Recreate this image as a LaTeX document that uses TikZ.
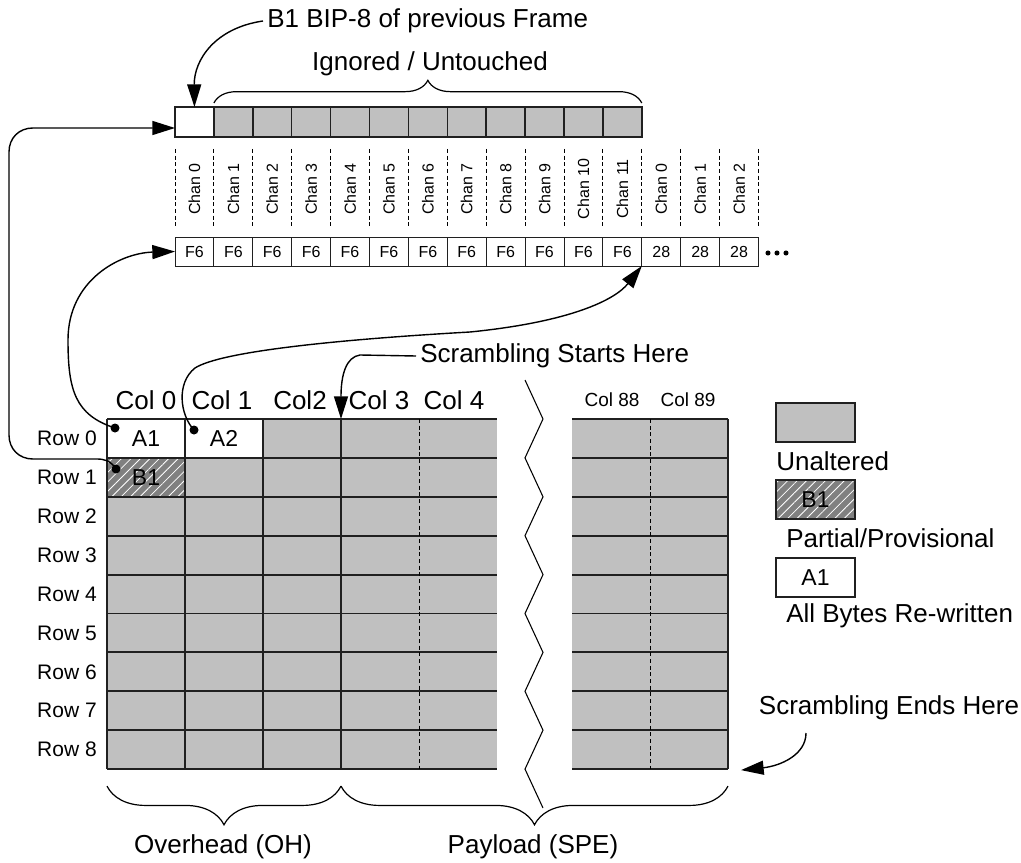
\documentclass[tikz,border=0pt]{standalone}
\usepackage{fontspec}
\setmainfont{Liberation Sans}
\usetikzlibrary{arrows.meta,decorations.pathreplacing,patterns.meta,calc}
\definecolor{cellgray}{HTML}{C0C0C0}
\definecolor{hatchgray}{HTML}{808080}
\definecolor{edgegray}{HTML}{202020}
\begin{document}
\begin{tikzpicture}[x=0.75pt,y=-0.75pt,
  lbl/.style={font=\fontsize{19.5}{22}\selectfont, inner sep=0},
  rowlbl/.style={font=\fontsize{15.75}{18}\selectfont, inner sep=0, anchor=east},
  farcol/.style={font=\fontsize{14.25}{16}\selectfont, inner sep=0},
  chanlbl/.style={font=\fontsize{12}{14}\selectfont, inner sep=0, rotate=90},
  celltext/.style={font=\fontsize{17.25}{20}\selectfont},
  cellbox/.style={rectangle, minimum width=58.5pt, minimum height=29.175pt,
    inner sep=0, outer sep=0, celltext},
  cell/.style={cellbox, fill=cellgray},
  hatched/.style={preaction={fill=hatchgray},
    pattern={Lines[angle=45,distance=5pt,line width=0.6pt]}, pattern color=white},
  topcell/.style={rectangle, draw=edgegray, line width=1.1pt, fill=cellgray,
    minimum width=29.175pt, minimum height=22.5pt, inner sep=0, outer sep=0},
  bytecell/.style={rectangle, draw=edgegray, line width=0.75pt, fill=white,
    minimum width=29.175pt, minimum height=21.75pt, inner sep=0, outer sep=0,
    font=\fontsize{12}{14}\selectfont},
  legbox/.style={rectangle, draw=edgegray, line width=1.2pt,
    minimum width=59.25pt, minimum height=29.25pt, inner sep=0, outer sep=0, celltext},
  gridline/.style={line width=1.4pt, draw=edgegray},
  sep/.style={line width=0.75pt, dash pattern=on 3pt off 2pt},
  thinline/.style={line width=0.8pt},
  link/.style={line width=1.05pt, -{Triangle[length=17pt,width=10.5pt]}},
  bracestyle/.style={line width=0.9pt, decorate},
  dot/.style={circle, fill=black, inner sep=0, minimum size=6.75pt}]
\useasboundingbox (0,0) rectangle (1021,863);

% ---- channel strip of the first row ----
\node[topcell, fill=white] (t0) at ({175+38.9*0.5},122) {};
\foreach \i in {1,...,11}
  \node[topcell] (t\i) at ({175+38.9*(\i+0.5)},122) {};

\draw[bracestyle, decoration={brace, amplitude=17pt}]
  ([yshift=3pt]t1.north west) -- ([yshift=3pt]t11.north east);
\node[lbl] (ign) at (430,64) {Ignored / Untouched};

\node[lbl, anchor=west] (bip) at (267,21) {B1 BIP-8 of previous Frame};

% ---- channel labels and byte values ----
\foreach \t [count=\i from 0] in {0,1,2,3,4,5,6,7,8,9,10,11,0,1,2}
  \node[chanlbl] (ch\i) at ({175+38.9*(\i+0.5)},189) {Chan \t};
\foreach \i in {0,...,15}
  \draw[sep] ({175+38.9*\i},149) -- ({175+38.9*\i},228);
\foreach \t [count=\i from 0] in {F6,F6,F6,F6,F6,F6,F6,F6,F6,F6,F6,F6,28,28,28}
  \node[bytecell] (b\i) at ({175+38.9*(\i+0.5)},251.5) {\t};
\foreach \k in {0,1,2}
  \fill ({768+9*\k},253) circle (1.9pt);

% ---- frame grid ----
\foreach \r in {0,...,8} {
  \foreach \c in {0,...,4}
    \node[cell] (L-\r-\c) at ({107+78*\c+39},{419+38.9*\r+19.45}) {};
  \foreach \c in {0,1}
    \node[cell] (R-\r-\c) at ({572+78*\c+39},{419+38.9*\r+19.45}) {};
}
\node[cellbox, fill=white] (A1) at (L-0-0) {A1};
\node[cellbox, fill=white] (A2) at (L-0-1) {A2};
\node[cellbox, hatched] (B1) at (L-1-0) {B1};

\foreach \r in {0,...,8} {
  \draw[gridline] (L-\r-0.north west) -- (L-\r-4.north east);
  \draw[gridline] (R-\r-0.north west) -- (R-\r-1.north east);
}
\draw[gridline] (L-8-0.south west) -- (L-8-4.south east);
\draw[gridline] (R-8-0.south west) -- (R-8-1.south east);
\foreach \c in {0,...,3}
  \draw[gridline] (L-0-\c.north west) -- (L-8-\c.south west);
\draw[sep] (L-0-4.north west) -- (L-8-4.south west);
\draw[sep] (R-0-1.north west) -- (R-8-1.south west);
\draw[gridline] (R-0-1.north east) -- (R-8-1.south east);

% break between column 4 and column 88
\draw[thinline] (525,380) -- (543,419) -- (525,457.9) -- (543,496.8) -- (525,535.7)
  -- (543,574.6) -- (525,613.5) -- (543,652.4) -- (525,691.3) -- (543,730.2)
  -- (525,769.1) -- (543,808);

% column and row headings
\node[lbl] (col0) at (146,400) {Col 0};
\node[lbl] (col1) at (222,400) {Col 1};
\node[lbl] (col2) at (300,400) {Col2};
\node[lbl] (col3) at (379,400) {Col 3};
\node[lbl] (col4) at (454,400) {Col 4};
\node[farcol] (col88) at (612,400) {Col 88};
\node[farcol] (col89) at (688,400) {Col 89};
\foreach \r in {0,...,8}
  \node[rowlbl] (row\r) at (97,{419+38.9*\r+19.45}) {Row \r};

% ---- markers and links ----
\node[dot] (a1dot) at (115,428) {};
\node[dot] (a2dot) at (194,430) {};
\node[dot] (b1dot) at (116,469) {};

\draw[link] (b1dot.center) .. controls (110,460) and (104,459) .. (96,459)
  -- (33,459) .. controls (19,459) and (9,449) .. (9,435)
  -- (9,152) .. controls (9,138) and (19,128) .. (33,128)
  -- ([yshift=-4.5pt]t0.west);
\draw[link] (a1dot.center) .. controls (75,415) and (68,390) .. (68,340)
  .. controls (68,280) and (120,253) .. (b0.west);
\draw[link] (a2dot.center) .. controls (180,415) and (176,383) .. (195,368)
  .. controls (220,352) and (330,340) .. (470,332)
  .. controls (570,322) and (615,300) .. (b11.south east);
\draw[link] ([xshift=-3pt]bip.west) .. controls (215,28) and (194,60) .. (t0.north);

\node[lbl, anchor=west] (ss) at (420,356) {Scrambling Starts Here};
\draw[link] ([xshift=-3pt]ss.west) -- (360,355) .. controls (346,357) and (341,375)
  .. (L-0-3.north west);

\node[lbl] (se) at (889,708) {Scrambling Ends Here};
\coordinate (seStart) at (806,733);
\coordinate (seEnd) at ($(R-8-1.south east)+(13,1)$);
\draw[link] (seStart) .. controls (806,755) and (780,766) .. (seEnd);

% ---- legend ----
\node[legbox, fill=cellgray] (leg1) at (815.5,422.5) {};
\node[lbl, anchor=west] (leg1t) at (776,461) {Unaltered};
\node[legbox, hatched] (leg2) at (815.5,499.5) {B1};
\node[lbl, anchor=west] (leg2t) at (786,538) {Partial/Provisional};
\node[legbox, fill=white] (leg3) at (815.5,577.5) {A1};
\node[lbl, anchor=west] (leg3t) at (786,616) {All Bytes Re-written};

% ---- bottom braces ----
\draw[bracestyle, decoration={brace, amplitude=29pt}]
  ([yshift=-12.75pt]L-8-3.south west) -- ([yshift=-12.75pt]L-8-0.south west);
\draw[bracestyle, decoration={brace, amplitude=29pt}]
  ([yshift=-12.75pt]R-8-1.south east) -- ([yshift=-12.75pt]L-8-3.south west);
\node[lbl] (oh) at (223,847) {Overhead (OH)};
\node[lbl] (spe) at (533,847) {Payload (SPE)};
\end{tikzpicture}
\end{document}
